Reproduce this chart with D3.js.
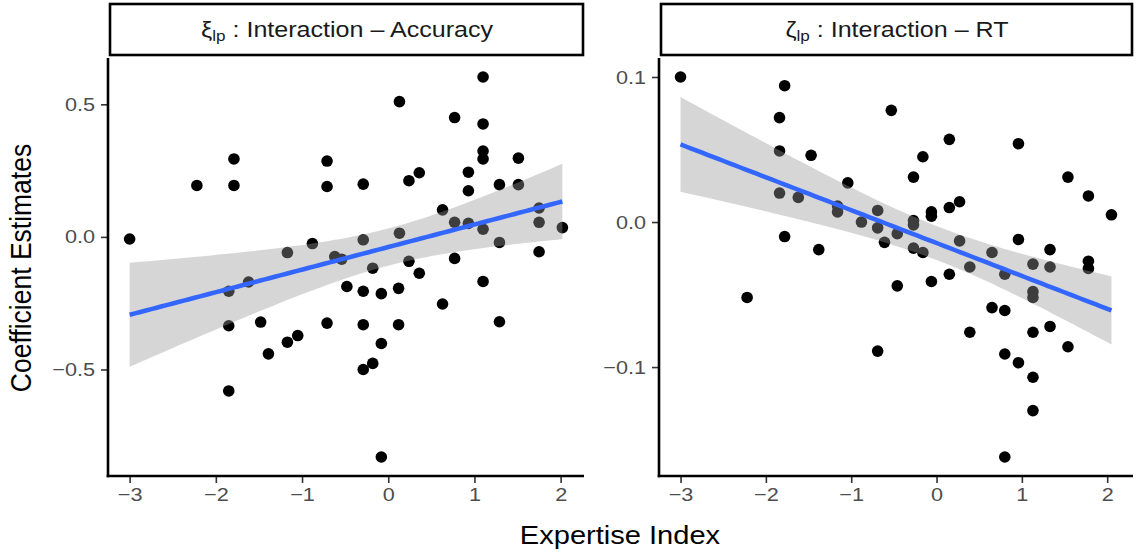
<!DOCTYPE html>
<html>
<head>
<meta charset="utf-8">
<script src="https://cdn.jsdelivr.net/npm/d3@7"></script>
<style>
  body { margin: 0; background: #fff; }
  svg { display: block; font-family: "Liberation Sans", Arial, Helvetica, sans-serif; }
</style>
</head>
<body>
<svg id="chart" width="1138" height="552"></svg>
<script>
// Expertise index and coefficient estimates per participant
const accX = [-3.00, -2.22, -1.79, -1.79, -0.71, -0.71, -1.17, -0.88, -0.62, -0.54, -1.62,
  1.10, 0.13, 0.77, 1.10, 1.10, 1.10, 1.51, -0.29, 0.24, 0.36, 0.93, 0.93, 1.29, 1.51,
  0.63, 0.77, 0.93, 1.10, 1.75, 1.75, 2.02, -0.29, 0.13, 1.29, -0.18, 0.24, 0.77, 1.75,
  0.36, 1.10, -1.85, -1.85, -1.48, -1.39, -1.17, -1.05, -0.71, -1.85, -0.48, -0.29,
  -0.08, 0.12, 0.63, -0.29, 0.12, 1.29, -0.08, -0.18, -0.29, -0.08];
const accY = [-0.008, 0.194, 0.294, 0.194, 0.286, 0.190, -0.059, -0.025, -0.074, -0.084, -0.170,
  0.603, 0.510, 0.450, 0.426, 0.324, 0.294, 0.297, 0.199, 0.212, 0.242, 0.244, 0.174, 0.197, 0.197,
  0.102, 0.055, 0.051, 0.029, 0.109, 0.055, 0.035, -0.011, 0.014, -0.021, -0.118, -0.092, -0.081, -0.056,
  -0.137, -0.168, -0.205, -0.335, -0.321, -0.441, -0.397, -0.372, -0.325, -0.581, -0.187, -0.205,
  -0.214, -0.194, -0.253, -0.331, -0.331, -0.320, -0.402, -0.477, -0.500, -0.830];

const rtX = [-3.00, -1.78, -1.84, -0.53, -1.84, -1.47, -1.04, -1.84, -1.62, -1.16, -1.16,
  -0.69, -0.88, -0.69, -0.46, -1.78, -1.38, -0.61, 0.15, 0.96, -0.16, -0.27, 1.54, 1.78, 2.05,
  0.15, 0.27, -0.06, -0.06, -0.27, -0.27, -0.27, -0.16, 0.27, 0.65, 0.96, 1.33, 0.39, 0.80,
  1.13, 1.33, 1.78, 1.78, 0.15, -0.06, -2.22, -0.69, -0.46, 1.13, 1.13, 0.65, 0.80, 0.39,
  1.13, 1.33, 1.54, 0.80, 0.96, 1.13, 1.13, 0.80];
const rtY = [0.100, 0.094, 0.072, 0.077, 0.049, 0.046, 0.027, 0.020, 0.017, 0.011, 0.007,
  0.008, 0.000, -0.004, -0.008, -0.010, -0.019, -0.014, 0.057, 0.054, 0.045, 0.031, 0.031, 0.018, 0.005,
  0.010, 0.014, 0.007, 0.004, 0.001, -0.002, -0.018, -0.021, -0.013, -0.021, -0.012, -0.019, -0.031, -0.036,
  -0.029, -0.031, -0.027, -0.032, -0.036, -0.041, -0.052, -0.089, -0.044, -0.048, -0.052, -0.059, -0.061, -0.076,
  -0.076, -0.072, -0.086, -0.091, -0.097, -0.107, -0.130, -0.162];

const xTicks = [-3, -2, -1, 0, 1, 2];
const accTicks = [-0.5, 0.0, 0.5];
const rtTicks = [-0.1, 0.0, 0.1];

const panels = [
  { x: accX, y: accY, yTicks: accTicks, sym: "\u03BE", label: " : Interaction \u2013 Accuracy",
    left: 108, right: 584 },
  { x: rtX, y: rtY, yTicks: rtTicks, sym: "\u03B6", label: " : Interaction \u2013 RT",
    left: 659, right: 1133 }
];

const panelTop = 58, panelBottom = 476;
const stripTop = 4, stripBottom = 55;
const stretch = 1.14; // glyphs are drawn slightly wide

const svg = d3.select("#chart");
svg.append("rect").attr("width", 1138).attr("height", 552).attr("fill", "#fff");

// ggplot-style 5% expansion of the data range
function expanded(vals) {
  const [lo, hi] = d3.extent(vals);
  const pad = (hi - lo) * 0.05;
  return [lo - pad, hi + pad];
}

// OLS fit with 95% confidence band (like geom_smooth(method = "lm"))
function lmBand(xs, ys, steps) {
  const n = xs.length;
  const mx = d3.mean(xs), my = d3.mean(ys);
  let sxx = 0, sxy = 0;
  for (let i = 0; i < n; i++) { sxx += (xs[i] - mx) ** 2; sxy += (xs[i] - mx) * (ys[i] - my); }
  const b = sxy / sxx, a = my - b * mx;
  let sse = 0;
  for (let i = 0; i < n; i++) sse += (ys[i] - a - b * xs[i]) ** 2;
  const s = Math.sqrt(sse / (n - 2));
  const t = 2.001; // qt(0.975, 59)
  const [lo, hi] = d3.extent(xs);
  return d3.range(steps + 1).map(k => {
    const x = lo + (hi - lo) * k / steps;
    const fit = a + b * x;
    const se = s * Math.sqrt(1 / n + (x - mx) ** 2 / sxx);
    return { x, fit, ymin: fit - t * se, ymax: fit + t * se };
  });
}

panels.forEach(p => {
  const xs = d3.scaleLinear().domain(expanded(p.x)).range([p.left, p.right]);
  const ys = d3.scaleLinear().domain(expanded(p.y)).range([panelBottom, panelTop]);
  const g = svg.append("g");

  // strip
  g.append("rect")
    .attr("x", p.left + 2).attr("y", stripTop)
    .attr("width", p.right - p.left - 3).attr("height", stripBottom - stripTop)
    .attr("fill", "#fff").attr("stroke", "#000").attr("stroke-width", 2.6);
  const st = g.append("text")
    .attr("transform", `translate(${(p.left + p.right) / 2 + 1},37) scale(${stretch},1)`)
    .attr("text-anchor", "middle").attr("font-size", 22).attr("fill", "#1a1a1a");
  st.append("tspan").text(p.sym);
  st.append("tspan").attr("font-size", 15).attr("dy", 4).text("lp");
  st.append("tspan").attr("dy", -4).text(p.label);

  // points
  g.append("g").selectAll("circle").data(p.x.map((v, i) => [v, p.y[i]])).join("circle")
    .attr("cx", d => xs(d[0])).attr("cy", d => ys(d[1])).attr("r", 5.8).attr("fill", "#000");

  // smoother
  const band = lmBand(p.x, p.y, 80);
  g.append("path").datum(band)
    .attr("d", d3.area().x(d => xs(d.x)).y0(d => ys(d.ymin)).y1(d => ys(d.ymax)))
    .attr("fill", "#999999").attr("fill-opacity", 0.4);
  g.append("path").datum(band)
    .attr("d", d3.line().x(d => xs(d.x)).y(d => ys(d.fit)))
    .attr("fill", "none").attr("stroke", "#3366FF").attr("stroke-width", 4.5);

  // axes
  const xAxis = d3.axisBottom(xs).tickValues(xTicks).tickFormat(d3.format("d"))
    .tickSize(7).tickPadding(5);
  const yAxis = d3.axisLeft(ys).tickValues(p.yTicks).tickFormat(d3.format(".1f"))
    .tickSize(7).tickPadding(6);
  const gx = g.append("g").attr("transform", `translate(0,${panelBottom})`).call(xAxis);
  const gy = g.append("g").attr("transform", `translate(${p.left},0)`).call(yAxis);
  [gx, gy].forEach(a => {
    a.select(".domain").remove();
    a.selectAll(".tick line").attr("stroke", "#333").attr("stroke-width", 1.6);
    a.selectAll(".tick text").attr("fill", "#4d4d4d").attr("font-size", 19)
      .attr("font-family", "Liberation Sans, Arial, sans-serif");
  });
  gx.selectAll(".tick text").attr("transform", `scale(${stretch},1)`);
  gy.selectAll(".tick text").each(function () {
    const t = d3.select(this);
    const x0 = +t.attr("x");
    t.attr("x", 0).attr("transform", `translate(${x0},0) scale(${stretch},1)`);
  });
  g.append("line").attr("x1", p.left).attr("x2", p.left).attr("y1", panelTop).attr("y2", panelBottom + 1.3)
    .attr("stroke", "#000").attr("stroke-width", 2.6);
  g.append("line").attr("x1", p.left - 1.3).attr("x2", p.right).attr("y1", panelBottom).attr("y2", panelBottom)
    .attr("stroke", "#000").attr("stroke-width", 2.6);
});

// axis titles
svg.append("text").attr("transform", `translate(620,544) scale(${stretch},1)`).attr("text-anchor", "middle")
  .attr("font-size", 25.5).attr("fill", "#000").text("Expertise Index");
svg.append("text").attr("transform", `translate(31,268) scale(${stretch},1) rotate(-90)`).attr("text-anchor", "middle")
  .attr("font-size", 26.5).attr("fill", "#000").text("Coefficient Estimates");
</script>
</body>
</html>
